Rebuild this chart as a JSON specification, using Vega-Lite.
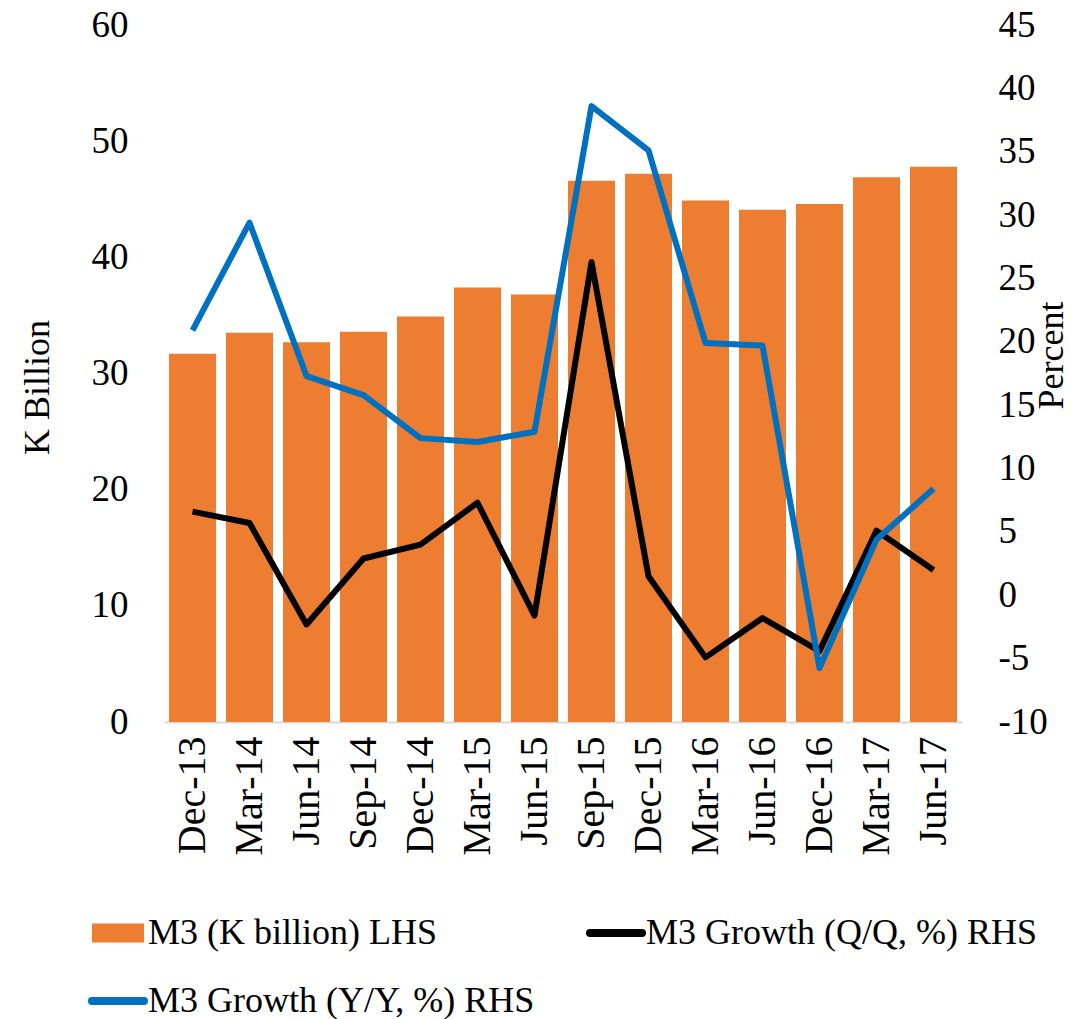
{
  "$schema": "https://vega.github.io/schema/vega-lite/v6.json",
  "width": 798,
  "height": 697,
  "autosize": {"type": "none"},
  "padding": {"left": 164, "top": 25, "right": 109, "bottom": 297},
  "background": "white",
  "config": {
    "font": "Liberation Serif",
    "view": {"stroke": null},
    "axis": {"grid": false, "ticks": false, "labelColor": "#000000", "titleColor": "#000000", "titleFontWeight": "normal"},
    "legend": {"labelFont": "Liberation Serif", "labelFontSize": 36, "labelColor": "#000000", "labelLimit": 800}
  },
  "data": {
    "values": [
      {"date": "Dec-13", "m3": 31.7, "qq": 6.6, "yy": 20.9},
      {"date": "Mar-14", "m3": 33.5, "qq": 5.7, "yy": 29.4},
      {"date": "Jun-14", "m3": 32.7, "qq": -2.3, "yy": 17.3},
      {"date": "Sep-14", "m3": 33.6, "qq": 2.9, "yy": 15.8},
      {"date": "Dec-14", "m3": 34.9, "qq": 4.0, "yy": 12.4},
      {"date": "Mar-15", "m3": 37.4, "qq": 7.3, "yy": 12.1},
      {"date": "Jun-15", "m3": 36.8, "qq": -1.6, "yy": 12.9},
      {"date": "Sep-15", "m3": 46.6, "qq": 26.3, "yy": 38.6},
      {"date": "Dec-15", "m3": 47.2, "qq": 1.5, "yy": 35.1},
      {"date": "Mar-16", "m3": 44.9, "qq": -4.9, "yy": 19.9},
      {"date": "Jun-16", "m3": 44.1, "qq": -1.8, "yy": 19.7},
      {"date": "Dec-16", "m3": 44.6, "qq": -4.4, "yy": -5.75},
      {"date": "Mar-17", "m3": 46.9, "qq": 5.1, "yy": 4.4},
      {"date": "Jun-17", "m3": 47.8, "qq": 2.0, "yy": 8.4}
    ]
  },
  "encoding": {
    "x": {
      "field": "date",
      "type": "nominal",
      "sort": null,
      "scale": {"paddingInner": 0.175, "paddingOuter": 0.0875},
      "axis": {
        "title": null,
        "labelAngle": 270,
        "labelFontSize": 40,
        "labelPadding": 14,
        "domainColor": "#D9D9D9",
        "domainWidth": 2
      }
    }
  },
  "layer": [
    {
      "mark": {"type": "bar", "color": "#ED7D31"},
      "encoding": {
        "y": {
          "field": "m3",
          "type": "quantitative",
          "scale": {"domain": [0, 60], "nice": false},
          "axis": {
            "orient": "left",
            "values": [0, 10, 20, 30, 40, 50, 60],
            "title": "K Billion",
            "titleFontSize": 36,
            "titleX": -127,
            "titleY": 362,
            "titleAngle": 270,
            "titleAlign": "center",
            "titleBaseline": "middle",
            "labelFontSize": 37,
            "labelPadding": 36,
            "domain": false
          }
        },
        "color": {
          "datum": "M3 (K billion) LHS",
          "type": "nominal",
          "scale": {
            "domain": ["M3 (K billion) LHS", "M3 Growth (Y/Y, %) RHS", "M3 Growth (Q/Q, %) RHS"],
            "range": ["#ED7D31", "#0070C0", "#000000"]
          },
          "legend": {
            "title": null,
            "orient": "none",
            "legendX": -64,
            "legendY": 890,
            "columns": 2,
            "columnPadding": 39,
            "rowPadding": 32,
            "padding": 0,
            "symbolSize": 2704,
            "labelOffset": 12,
            "encode": {
              "symbols": {
                "update": {
                  "shape": {"signal": "datum.value === 'M3 (K billion) LHS' ? 'M-1,-0.365H1V0.365H-1Z' : 'stroke'"},
                  "fill": {"signal": "datum.value === 'M3 (K billion) LHS' ? '#ED7D31' : 'transparent'"},
                  "stroke": {"signal": "datum.value === 'M3 (K billion) LHS' ? '#ED7D31' : (datum.value === 'M3 Growth (Q/Q, %) RHS' ? '#000000' : '#0070C0')"},
                  "strokeWidth": {"signal": "datum.value === 'M3 (K billion) LHS' ? 0 : 8"},
                  "strokeCap": {"value": "round"},
                  "size": {"value": 2704},
                  "opacity": {"value": 1}
                }
              }
            }
          }
        }
      }
    },
    {
      "encoding": {
        "y": {
          "type": "quantitative",
          "scale": {"domain": [-10, 45], "nice": false},
          "axis": {
            "orient": "right",
            "values": [-10, -5, 0, 5, 10, 15, 20, 25, 30, 35, 40, 45],
            "labelExpr": "'' + datum.value",
            "title": "Percent",
            "titleFontSize": 36,
            "titleX": 89,
            "titleY": 330,
            "titleAngle": 270,
            "titleAlign": "center",
            "titleBaseline": "middle",
            "labelFontSize": 37,
            "labelPadding": 36,
            "domain": false
          }
        }
      },
      "layer": [
        {
          "mark": {"type": "line", "strokeWidth": 6, "strokeJoin": "round"},
          "encoding": {
            "y": {"field": "qq", "type": "quantitative"},
            "color": {"datum": "M3 Growth (Q/Q, %) RHS", "type": "nominal"}
          }
        },
        {
          "mark": {"type": "line", "strokeWidth": 6, "strokeJoin": "round"},
          "encoding": {
            "y": {"field": "yy", "type": "quantitative"},
            "color": {"datum": "M3 Growth (Y/Y, %) RHS", "type": "nominal"}
          }
        }
      ]
    }
  ],
  "resolve": {"scale": {"y": "independent"}}
}
